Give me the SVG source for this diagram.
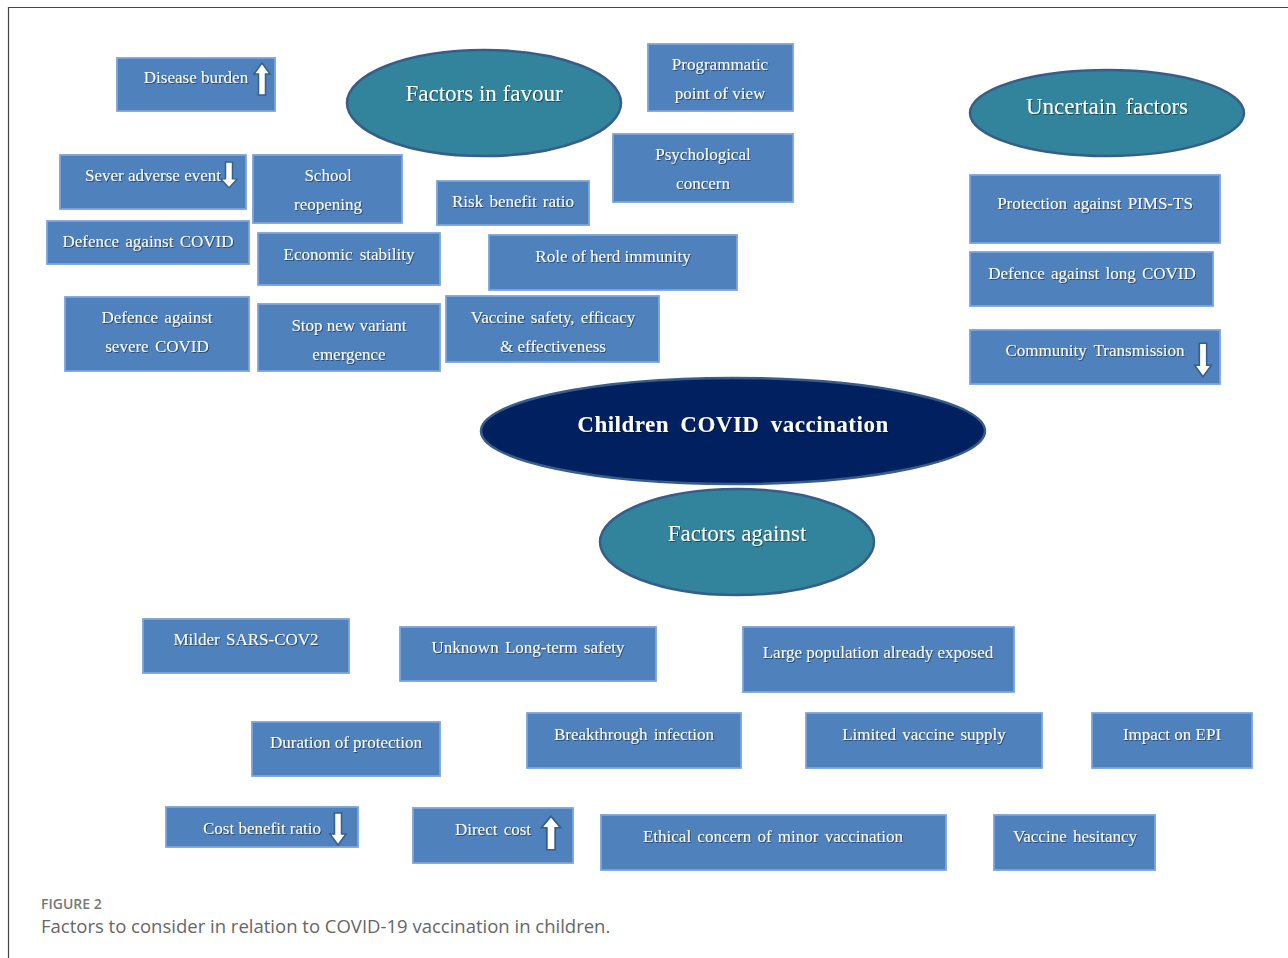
<svg xmlns="http://www.w3.org/2000/svg" width="1288" height="958" viewBox="0 0 1288 958">
<defs>
<filter id="ts" x="-5%" y="-20%" width="110%" height="140%">
<feDropShadow dx="1" dy="1" stdDeviation="0.6" flood-color="#000" flood-opacity="0.45"/>
</filter>
<path id="up" d="M0,-16 L8,-5 L3.5,-5 L3.5,16 L-3.5,16 L-3.5,-5 L-8,-5 Z"/>
<path id="down" d="M0,16 L8,5 L3.5,5 L3.5,-16 L-3.5,-16 L-3.5,5 L-8,5 Z"/>
</defs>
<style>
.box{fill:#4F81BD;stroke:#7BA4DA;stroke-width:1.8}
.ell{fill:#31849B;stroke:#385D8A;stroke-width:2.5}
.main{fill:#002060;stroke:#385D8A;stroke-width:2.5}
.t{font-family:"Liberation Serif","Times New Roman",serif;font-size:17px;fill:#fff;text-anchor:middle;filter:url(#ts)}
.et{font-family:"Liberation Serif","Times New Roman",serif;font-size:23px;fill:#fff;text-anchor:middle;filter:url(#ts)}
.arr{fill:#fff;stroke:#385D8A;stroke-width:1.5}
.cap1{font-family:"Open Sans","Liberation Sans",sans-serif;font-size:14px;fill:#777;font-weight:600}
.cap2{font-family:"Open Sans","Liberation Sans",sans-serif;font-size:18.5px;fill:#666}
</style>
<rect width="1288" height="958" fill="#fff"/>
<path d="M1288,7.5 H8.5 V958" fill="none" stroke="#444" stroke-width="1.2"/>

<g id="factors-in-favour"><ellipse class="ell" cx="484" cy="103" rx="137" ry="53"/><text class="et" x="484" y="101">Factors in favour</text></g>
<g id="uncertain-factors"><ellipse class="ell" cx="1107" cy="113" rx="137" ry="43"/><text class="et" x="1107" y="114" word-spacing="3">Uncertain factors</text></g>
<g id="children-covid-vaccination"><ellipse class="main" cx="733" cy="431" rx="252" ry="53"/><text class="et" x="733" y="432" font-weight="bold" letter-spacing="0.5" word-spacing="5">Children COVID vaccination</text></g>
<g id="factors-against"><ellipse class="ell" cx="737" cy="542" rx="137" ry="53"/><text class="et" x="737" y="541">Factors against</text></g>

<g id="disease-burden"><rect class="box" x="117" y="58" width="158" height="53"/><text class="t" x="196" y="83">Disease burden</text><use href="#up" class="arr" transform="translate(262,79)"/></g>
<g id="sever-adverse-event"><rect class="box" x="60" y="155" width="186" height="54"/><text class="t" x="153" y="181">Sever adverse event</text><use href="#down" class="arr" transform="translate(229,175) scale(1,0.8)"/></g>
<g id="school-reopening"><rect class="box" x="253" y="155" width="149" height="68"/><text class="t" x="328" y="181">School</text><text class="t" x="328" y="210">reopening</text></g>
<g id="defence-covid"><rect class="box" x="47" y="221" width="202" height="43"/><text class="t" x="148" y="247" word-spacing="2">Defence against COVID</text></g>
<g id="economic-stability"><rect class="box" x="258" y="233" width="182" height="52"/><text class="t" x="349" y="260" word-spacing="3">Economic stability</text></g>
<g id="defence-severe"><rect class="box" x="65" y="297" width="184" height="74"/><text class="t" x="157" y="323" word-spacing="2">Defence against</text><text class="t" x="157" y="352" word-spacing="2">severe COVID</text></g>
<g id="stop-variant"><rect class="box" x="258" y="304" width="182" height="67"/><text class="t" x="349" y="331">Stop new variant</text><text class="t" x="349" y="360">emergence</text></g>
<g id="risk-benefit"><rect class="box" x="437" y="181" width="152" height="44"/><text class="t" x="513" y="207" word-spacing="2">Risk benefit ratio</text></g>
<g id="herd-immunity"><rect class="box" x="489" y="235" width="248" height="55"/><text class="t" x="613" y="262">Role of herd immunity</text></g>
<g id="vaccine-safety"><rect class="box" x="446" y="296" width="213" height="66"/><text class="t" x="553" y="323" word-spacing="2">Vaccine safety, efficacy</text><text class="t" x="553" y="352">&amp; effectiveness</text></g>
<g id="programmatic"><rect class="box" x="648" y="44" width="145" height="67"/><text class="t" x="720" y="70">Programmatic</text><text class="t" x="720" y="99">point of view</text></g>
<g id="psychological"><rect class="box" x="613" y="134" width="180" height="68"/><text class="t" x="703" y="160">Psychological</text><text class="t" x="703" y="189">concern</text></g>

<g id="pims-ts"><rect class="box" x="970" y="175" width="250" height="68"/><text class="t" x="1095" y="209" word-spacing="2">Protection against PIMS-TS</text></g>
<g id="long-covid"><rect class="box" x="970" y="252" width="243" height="54"/><text class="t" x="1092" y="279" word-spacing="2">Defence against long COVID</text></g>
<g id="community-transmission"><rect class="box" x="970" y="330" width="250" height="54"/><text class="t" x="1095" y="356" word-spacing="3">Community Transmission</text><use href="#down" class="arr" transform="translate(1203,360) scale(1.05,1.05)"/></g>

<g id="milder"><rect class="box" x="143" y="619" width="206" height="54"/><text class="t" x="246" y="645" word-spacing="2">Milder SARS-COV2</text></g>
<g id="unknown-safety"><rect class="box" x="400" y="627" width="256" height="54"/><text class="t" x="528" y="653" word-spacing="2">Unknown Long-term safety</text></g>
<g id="large-population"><rect class="box" x="743" y="627" width="271" height="65"/><text class="t" x="878" y="658">Large population already exposed</text></g>
<g id="duration"><rect class="box" x="252" y="722" width="188" height="54"/><text class="t" x="346" y="748">Duration of protection</text></g>
<g id="breakthrough"><rect class="box" x="527" y="713" width="214" height="55"/><text class="t" x="634" y="740" word-spacing="2">Breakthrough infection</text></g>
<g id="limited-supply"><rect class="box" x="806" y="713" width="236" height="55"/><text class="t" x="924" y="740" word-spacing="2">Limited vaccine supply</text></g>
<g id="impact-epi"><rect class="box" x="1092" y="713" width="160" height="55"/><text class="t" x="1172" y="740">Impact on EPI</text></g>
<g id="cost-benefit"><rect class="box" x="166" y="807" width="192" height="40"/><text class="t" x="262" y="834">Cost benefit ratio</text><use href="#down" class="arr" transform="translate(338,829)"/></g>
<g id="direct-cost"><rect class="box" x="413" y="808" width="160" height="55"/><text class="t" x="493" y="835" word-spacing="2">Direct cost</text><use href="#up" class="arr" transform="translate(551,833) scale(1.2,1.05)"/></g>
<g id="ethical"><rect class="box" x="601" y="815" width="345" height="55"/><text class="t" x="773" y="842" word-spacing="2">Ethical concern of minor vaccination</text></g>
<g id="hesitancy"><rect class="box" x="994" y="815" width="161" height="55"/><text class="t" x="1075" y="842" word-spacing="2">Vaccine hesitancy</text></g>

<g id="connectors"></g>

<text class="cap1" x="41" y="909">FIGURE 2</text>
<text class="cap2" x="41" y="933">Factors to consider in relation to COVID-19 vaccination in children.</text>
</svg>
